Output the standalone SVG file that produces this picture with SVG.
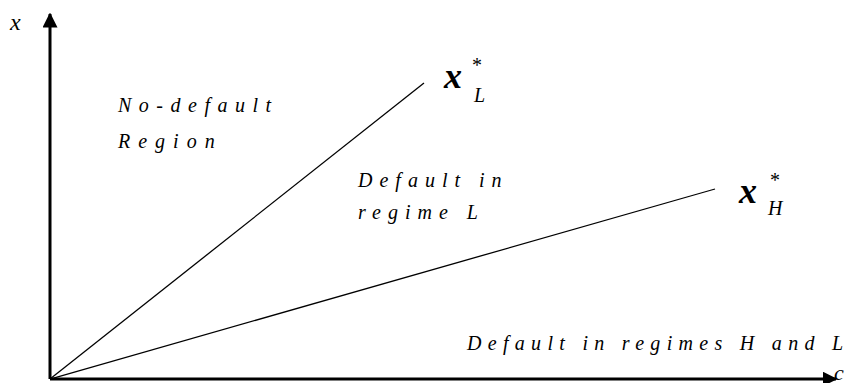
<svg xmlns="http://www.w3.org/2000/svg" width="847" height="383" viewBox="0 0 847 383">
<defs>
<marker id="ah" viewBox="0 0 10 10" refX="9" refY="5" markerWidth="5" markerHeight="5" markerUnits="strokeWidth" orient="auto">
<path d="M0,0 L10,5 L0,10 z" fill="#000"/>
</marker>
</defs>
<rect width="847" height="383" fill="#fff"/>
<text id="axis-x-label" x="10" y="30" font-size="24" font-family="Liberation Serif" font-style="italic">x</text>
<text id="axis-c-label" x="834" y="380" font-size="22" font-family="Liberation Serif" font-style="italic">c</text>
<text id="xL-x" x="444" y="88" font-size="36" font-weight="bold" font-family="Liberation Serif" font-style="italic">x</text>
<text id="xL-star" x="472" y="72" font-size="20" font-family="Liberation Serif">*</text>
<text id="xL-sub" x="474" y="102" font-size="20" font-family="Liberation Serif" font-style="italic">L</text>
<text id="xH-x" x="739" y="203" font-size="36" font-weight="bold" font-family="Liberation Serif" font-style="italic">x</text>
<text id="xH-star" x="770" y="187" font-size="20" font-family="Liberation Serif">*</text>
<text id="xH-sub" x="768" y="215" font-size="20" font-family="Liberation Serif" font-style="italic">H</text>
<text id="no-default-1" x="118" y="112" font-size="20" font-family="Liberation Serif" font-style="italic" letter-spacing="7.5">No-default</text>
<text id="no-default-2" x="118" y="148" font-size="20" font-family="Liberation Serif" font-style="italic" letter-spacing="8">Region</text>
<text id="default-L-1" x="358" y="187" font-size="20" font-family="Liberation Serif" font-style="italic" letter-spacing="7">Default in</text>
<text id="default-L-2" x="358" y="219" font-size="20" font-family="Liberation Serif" font-style="italic" letter-spacing="7">regime L</text>
<text id="default-HL" x="467" y="350" font-size="20" font-family="Liberation Serif" font-style="italic" letter-spacing="6.3">Default in regimes H and L</text>
<g id="connectors" stroke="#000" fill="none">
<line stroke-width="3" x1="50" y1="379" x2="50" y2="14" marker-end="url(#ah)"/>
<line stroke-width="3" x1="50" y1="379" x2="836" y2="379" marker-end="url(#ah)"/>
<line stroke-width="1.3" x1="50" y1="379" x2="424" y2="83"/>
<line stroke-width="1.3" x1="50" y1="379" x2="715" y2="189"/>
</g>
</svg>
